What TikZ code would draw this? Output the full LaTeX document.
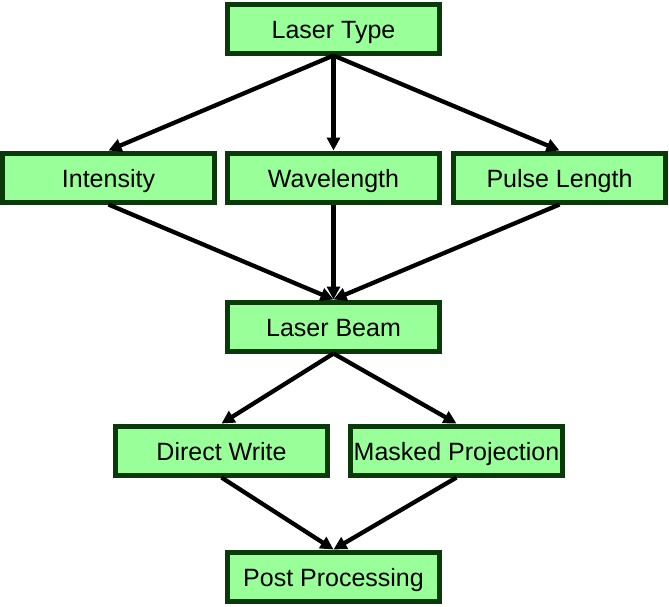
\documentclass[tikz,border=0pt]{standalone}
\usepackage{fontspec}
\setmainfont{Liberation Sans}
\usetikzlibrary{positioning, arrows.meta}

\definecolor{boxfill}{HTML}{99FF99}
\definecolor{boxline}{HTML}{0A3A0A}

\begin{document}
\begin{tikzpicture}[x=1pt, y=-1pt,
      stagebox/.style={draw=boxline, fill=boxfill, line width=5pt,
        minimum width=212pt, minimum height=49pt, inner sep=0pt,
        text height=21pt, text depth=1pt,
        font=\fontsize{25}{30}\selectfont},
      flow/.style={-{Triangle[length=13pt, width=13pt]}, line width=4.3pt},
      node distance=95pt]
    \useasboundingbox (0,0) rectangle (669,606);
    \node[stagebox] (ltype) at (333.5,28.5) {Laser Type};
    \node[stagebox, below=of ltype] (wave) {Wavelength};
    \node[stagebox, left=8pt of wave] (intens) {Intensity};
    \node[stagebox, right=9pt of wave] (pulse) {Pulse Length};
    \node[stagebox, below=of wave] (beam) {Laser Beam};
    \node[stagebox, below=70pt of beam, xshift=-112pt] (direct) {Direct Write};
    \node[stagebox, right=18pt of direct] (masked) {Masked Projection};
    \node[stagebox, below=196pt of beam] (post) {Post Processing};
    \draw[flow] (ltype.south) -- (intens.north);
    \draw[flow] (ltype.south) -- (wave.north);
    \draw[flow] (ltype.south) -- (pulse.north);
    \draw[flow] (intens.south) -- (beam.north);
    \draw[flow] (wave.south) -- (beam.north);
    \draw[flow] (pulse.south) -- (beam.north);
    \draw[flow] (beam.south) -- (direct.north);
    \draw[flow] (beam.south) -- (masked.north);
    \draw[flow] (direct.south) -- (post.north);
    \draw[flow] (masked.south) -- (post.north);
  \end{tikzpicture}
\end{document}
